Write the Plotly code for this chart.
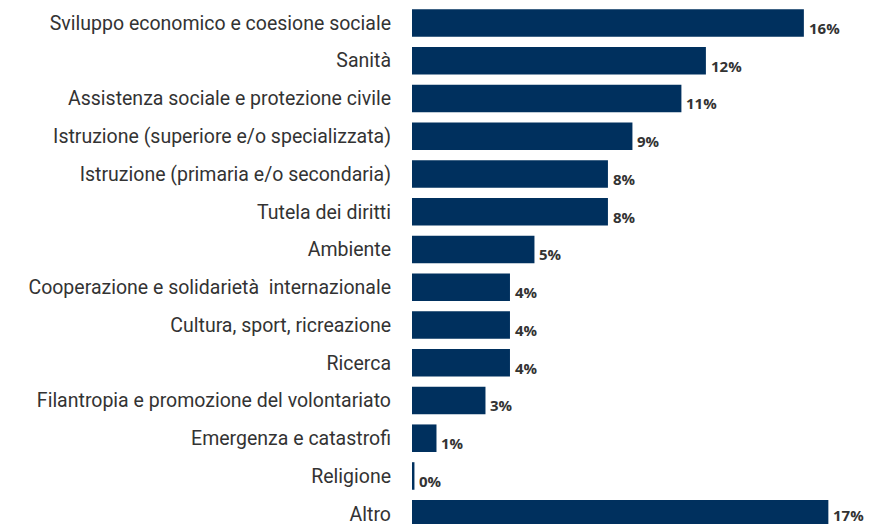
import plotly.graph_objects as go

# Sectors, from top to bottom, and their share of the total (%)
settori = [
    "Sviluppo economico e coesione sociale",
    "Sanità",
    "Assistenza sociale e protezione civile",
    "Istruzione (superiore e/o specializzata)",
    "Istruzione (primaria e/o secondaria)",
    "Tutela dei diritti",
    "Ambiente",
    "Cooperazione e solidarietà  internazionale",
    "Cultura, sport, ricreazione",
    "Ricerca",
    "Filantropia e promozione del volontariato",
    "Emergenza e catastrofi",
    "Religione",
    "Altro",
]
quote = [16, 12, 11, 9, 8, 8, 5, 4, 4, 4, 3, 1, 0.1, 17]

BAR_COLOR = "#00305E"
TEXT_COLOR = "#333333"
LABEL_FONT = "Roboto, 'Open Sans', sans-serif"
VALUE_FONT = "'Open Sans', Roboto, sans-serif"

fig = go.Figure(
    go.Bar(
        x=quote,
        y=settori,
        orientation="h",
        marker=dict(color=BAR_COLOR, line=dict(width=0)),
        hoverinfo="skip",
    )
)

# Value labels just past the end of each bar, sitting slightly low
# (the last one stays higher so it is not cut at the bottom edge)
for i, (s, v) in enumerate(zip(settori, quote)):
    fig.add_annotation(
        x=v, y=s, text=f"<b>{v:.0f}%</b>", showarrow=False,
        xanchor="left", yanchor="middle", xshift=3,
        yshift=-5 if i < len(settori) - 1 else -1,
        font=dict(family=VALUE_FONT, size=15, color=TEXT_COLOR),
    )

fig.update_layout(
    width=870, height=526,
    margin=dict(l=412, r=0, t=0, b=0),
    paper_bgcolor="white", plot_bgcolor="white",
    bargap=0.27,
    showlegend=False,
    font=dict(family=LABEL_FONT, color=TEXT_COLOR),
)
fig.update_xaxes(range=[0, 18.7], visible=False, fixedrange=True)
fig.update_yaxes(
    categoryorder="array", categoryarray=settori,
    range=[13.272, -0.607],
    showgrid=False, zeroline=False, showline=False,
    ticks="", ticklabelstandoff=20,
    tickfont=dict(family=LABEL_FONT, size=19.5, color=TEXT_COLOR),
    fixedrange=True,
)

fig.write_html("out.html")
